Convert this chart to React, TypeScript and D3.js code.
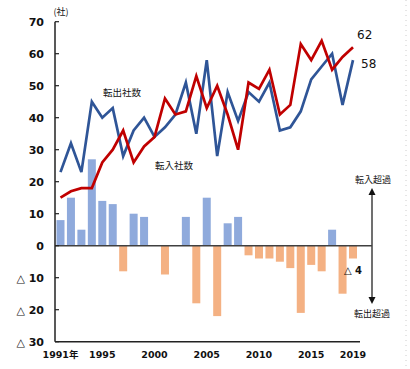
import {useEffect, useRef} from "react";
import * as d3 from "d3";

const years = d3.range(1991, 2020);
const tenshutsu = [23, 32, 23, 45, 40, 43, 28, 36, 40, 34, 37, 41, 51, 35, 58, 28, 48, 39, 48, 45, 51, 36, 37, 42, 52, 56, 60, 44, 58];
const tennyu = [15, 17, 18, 18, 26, 30, 36, 26, 31, 34, 46, 41, 42, 53, 43, 50, 41, 30, 51, 49, 55, 41, 44, 63, 58, 64, 55, 59, 62];
const net = tenshutsu.map((v, i) => v - tennyu[i]);
const yTicks = [70, 60, 50, 40, 30, 20, 10, 0, -10, -20, -30];
const xTickYears = [1991, 1995, 2000, 2005, 2010, 2015, 2019];

const FONT = "'DejaVu Sans', 'Noto Sans CJK JP', sans-serif";
const JP = "'Noto Sans CJK JP', sans-serif";

const App = () => {
    const ref = useRef<SVGSVGElement>(null);

    useEffect(() => {
        const svg = d3.select(ref.current);
        svg.selectAll("*").remove();

        const x = d3.scaleLinear().domain([1991, 2019]).range([60.5, 353]);
        const y = d3.scaleLinear().domain([-30, 70]).range([341.7, 21.7]);
        const barW = 8;

        // faint dotted line at right edge
        svg.append("line").attr("x1", 406).attr("x2", 406).attr("y1", 0).attr("y2", 369)
            .attr("stroke", "#ccc").attr("stroke-dasharray", "1,4");

        // bars
        svg.append("g").selectAll("rect").data(years.map((yr, i) => ({yr, v: net[i]})).filter(d => d.v !== 0))
            .enter().append("rect")
            .attr("x", d => x(d.yr) - barW / 2)
            .attr("y", d => d.v > 0 ? y(d.v) : y(0))
            .attr("width", barW)
            .attr("height", d => Math.abs(y(d.v) - y(0)))
            .attr("fill", d => d.v > 0 ? "#8faadc" : "#f4b183");

        // zero line
        svg.append("line").attr("x1", 55).attr("x2", 372).attr("y1", y(0)).attr("y2", y(0))
            .attr("stroke", "#404040").attr("stroke-width", 1.5);

        // y axis
        const ax = svg.append("g").attr("transform", "translate(55,0)");
        ax.append("line").attr("y1", y(70)).attr("y2", y(-30)).attr("stroke", "#222").attr("stroke-width", 1.5);
        ax.selectAll(".tk").data(yTicks).enter().append("line")
            .attr("x1", 0).attr("x2", 4).attr("y1", d => y(d)).attr("y2", d => y(d))
            .attr("stroke", "#222").attr("stroke-width", 1.2);
        ax.selectAll(".lb").data(yTicks).enter().append("text")
            .attr("x", -11).attr("y", d => y(d)).attr("dy", "0.36em")
            .attr("text-anchor", "end").attr("font-family", FONT).attr("font-size", 11)
            .attr("font-weight", "bold").attr("fill", "#111")
            .text(d => d < 0 ? `△ ${-d}` : `${d}`);

        // x axis
        svg.append("line").attr("x1", 55).attr("x2", 360).attr("y1", y(-30)).attr("y2", y(-30))
            .attr("stroke", "#222").attr("stroke-width", 1.5);
        svg.append("g").selectAll("text").data(xTickYears).enter().append("text")
            .attr("x", d => x(d)).attr("y", 358)
            .attr("text-anchor", "middle").attr("font-family", FONT).attr("font-size", 9.5)
            .attr("font-weight", "bold").attr("fill", "#111")
            .text(d => d === 1991 ? "1991年" : `${d}`);

        svg.append("text").attr("x", 61).attr("y", 15).attr("text-anchor", "middle")
            .attr("font-family", JP).attr("font-size", 9).attr("fill", "#111").text("(社)");

        // lines
        const line = d3.line<number>().x((_, i) => x(years[i])).y(d => y(d));
        svg.append("path").datum(tenshutsu).attr("d", line).attr("fill", "none")
            .attr("stroke", "#2f5597").attr("stroke-width", 2.7).attr("stroke-linejoin", "miter");
        svg.append("path").datum(tennyu).attr("d", line).attr("fill", "none")
            .attr("stroke", "#c00000").attr("stroke-width", 2.7).attr("stroke-linejoin", "miter");

        // labels
        const lab = (tx: number, ty: number, t: string, size: number, anchor = "middle", weight = "normal") =>
            svg.append("text").attr("x", tx).attr("y", ty).attr("text-anchor", anchor)
                .attr("font-family", FONT).attr("font-size", size).attr("font-weight", weight)
                .attr("fill", "#111").text(t);
        lab(122, 96, "転出社数", 9.5);
        lab(174, 169, "転入社数", 9.5);
        lab(357, 39, `${tennyu[tennyu.length - 1]}`, 12, "start");
        lab(361, 68, `${tenshutsu[tenshutsu.length - 1]}`, 12, "start");
        lab(353, 274, `△ ${Math.abs(net[net.length - 1])}`, 10, "middle", "bold");
        lab(373, 183, "転入超過", 9);
        lab(372, 317, "転出超過", 9);

        // arrow
        svg.append("line").attr("x1", 372).attr("x2", 372).attr("y1", 193).attr("y2", 299)
            .attr("stroke", "#404040").attr("stroke-width", 1.5);
        svg.append("path").attr("d", "M372,188 L368.5,195 L375.5,195 Z").attr("fill", "#111");
        svg.append("path").attr("d", "M372,304 L368.5,297 L375.5,297 Z").attr("fill", "#111");
    }, []);

    return <svg ref={ref} width={410} height={369} style={{position: "absolute", left: 0, top: 0}}/>;
};

export default App;
